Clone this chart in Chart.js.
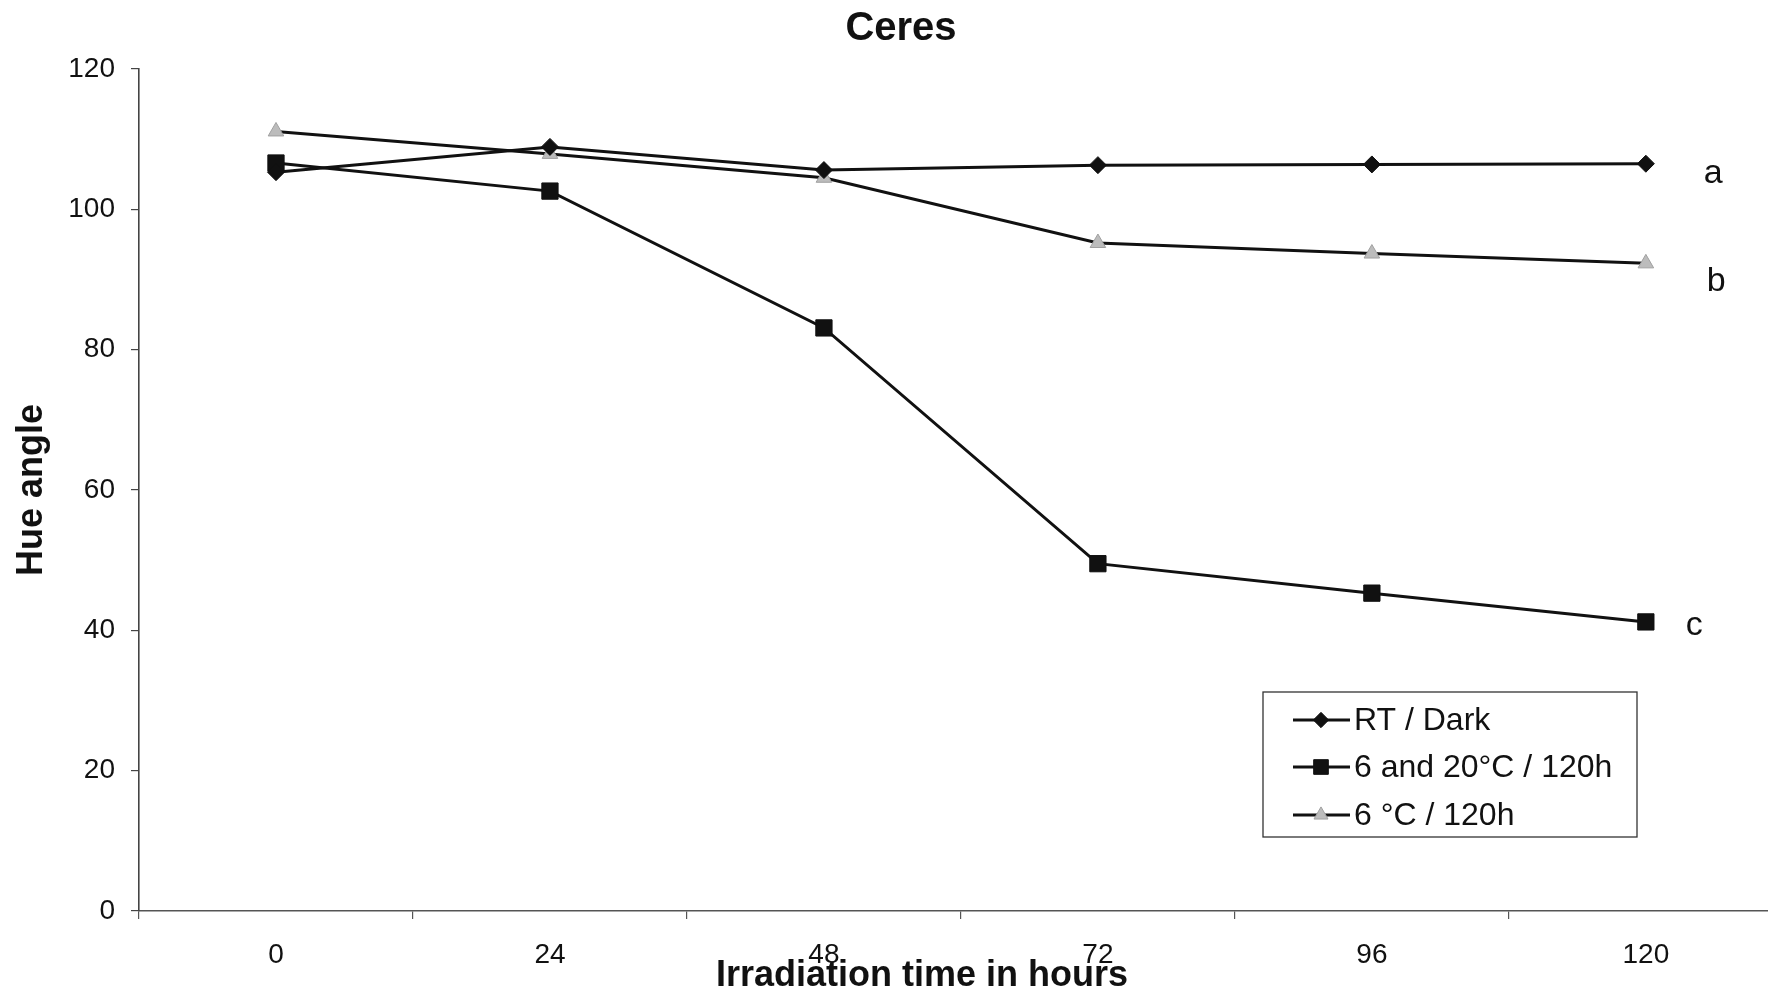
<!DOCTYPE html>
<html>
<head>
<meta charset="utf-8">
<title>Ceres - Hue angle</title>
<script src="https://cdn.jsdelivr.net/npm/chart.js@4.4.1/dist/chart.umd.min.js"></script>
<style>
    html, body { margin: 0; padding: 0; background: #fff; }
    #wrap { width: 1768px; height: 994px; position: relative; }
</style>
</head>
<body>
<div id="wrap"><canvas id="hue-chart"></canvas></div>
<script>
// values
const hours = [0, 24, 48, 72, 96, 120];
const rtDark = [105.3, 108.9, 105.6, 106.3, 106.4, 106.5];
const sixAnd20 = [106.6, 102.6, 83.1, 49.5, 45.3, 41.2];
const sixC = [111.1, 107.9, 104.5, 95.2, 93.7, 92.3];
const seriesNames = ['RT / Dark', '6 and 20°C / 120h', '6 °C / 120h'];
const endLetters = ['a', 'c', 'b'];
const yTicks = [0, 20, 40, 60, 80, 100, 120];

const FONT = '"Liberation Sans", Arial, sans-serif';

function toPoints(values) {
    return values.map((v, i) => ({x: hours[i], y: v}));
}

// letters a / b / c next to the last point, offsets in px
const letterOffsets = [
    {dx: 58, dy: 19},
    {dx: 40, dy: 13},
    {dx: 61, dy: 28}
];

const textPlugin = {
    id: 'textPlugin',
    afterDraw(chart) {
        const ctx = chart.ctx;
        const xs = chart.scales.x;
        const ys = chart.scales.y;
        ctx.save();
        ctx.fillStyle = '#111';

        // title
        ctx.textAlign = 'center';
        ctx.textBaseline = 'middle';
        ctx.font = 'bold 40px ' + FONT;
        ctx.fillText('Ceres', 901, 29);

        // x axis title
        ctx.font = 'bold 36px ' + FONT;
        ctx.fillText('Irradiation time in hours', 922, 976);

        // end letters
        ctx.textAlign = 'left';
        ctx.textBaseline = 'alphabetic';
        ctx.font = '34px ' + FONT;
        chart.data.datasets.forEach((ds, i) => {
            const last = ds.data[ds.data.length - 1];
            const px = xs.getPixelForValue(last.x) + letterOffsets[i].dx;
            const py = ys.getPixelForValue(last.y) + letterOffsets[i].dy;
            ctx.fillText(endLetters[i], px, py);
        });

        // legend box
        const box = {left: 1263, top: 692, right: 1637, bottom: 837};
        ctx.strokeStyle = '#333';
        ctx.lineWidth = 1.3;
        ctx.strokeRect(box.left, box.top, box.right - box.left, box.bottom - box.top);

        const rowY = [720, 767, 815];
        ctx.font = '32px ' + FONT;
        ctx.textBaseline = 'middle';
        chart.data.datasets.forEach((ds, i) => {
            const y = rowY[i];
            ctx.strokeStyle = ds.borderColor;
            ctx.lineWidth = ds.borderWidth;
            ctx.beginPath();
            ctx.moveTo(1293, y);
            ctx.lineTo(1350, y);
            ctx.stroke();

            ctx.fillStyle = ds.pointBackgroundColor;
            ctx.strokeStyle = ds.pointBorderColor;
            ctx.lineWidth = ds.pointBorderWidth;
            Chart.helpers.drawPoint(ctx, {
                pointStyle: ds.pointStyle,
                radius: ds.pointRadius * 0.9,
                rotation: 0,
                borderWidth: ds.pointBorderWidth
            }, 1321, y);

            ctx.fillStyle = '#111';
            ctx.fillText(ds.label, 1354, y + 1);
        });
        ctx.restore();
    }
};

const ctx = document.getElementById('hue-chart').getContext('2d');

new Chart(ctx, {
    type: 'line',
    data: {
        datasets: [
            {
                label: seriesNames[0],
                data: toPoints(rtDark),
                borderColor: '#111',
                borderWidth: 3,
                pointStyle: 'rectRot',
                pointRadius: 8.5,
                pointBackgroundColor: '#111',
                pointBorderColor: '#111',
                pointBorderWidth: 1
            },
            {
                label: seriesNames[1],
                data: toPoints(sixAnd20),
                borderColor: '#111',
                borderWidth: 3,
                pointStyle: 'rect',
                pointRadius: 11.5,
                pointBackgroundColor: '#111',
                pointBorderColor: '#111',
                pointBorderWidth: 1
            },
            {
                label: seriesNames[2],
                data: toPoints(sixC),
                borderColor: '#111',
                borderWidth: 3,
                pointStyle: 'triangle',
                pointRadius: 9,
                pointBackgroundColor: '#bcbcbc',
                pointBorderColor: '#a0a0a0',
                pointBorderWidth: 1
            }
        ]
    },
    options: {
        responsive: true,
        maintainAspectRatio: false,
        animation: false,
        layout: {
            autoPadding: false,
            padding: {top: 69, right: 0, bottom: 0, left: 0}
        },
        elements: {
            line: {tension: 0}
        },
        plugins: {
            legend: {display: false},
            title: {display: false},
            tooltip: {enabled: false}
        },
        scales: {
            x: {
                type: 'linear',
                min: -12,
                max: 130.7,
                afterBuildTicks: (scale) => {
                    scale.ticks = hours.map(v => ({value: v}));
                },
                afterFit: (scale) => {
                    scale.height = 83;
                    scale.paddingLeft = 0;
                    scale.paddingRight = 0;
                },
                grid: {
                    offset: true,
                    drawOnChartArea: false,
                    drawTicks: true,
                    tickLength: 8,
                    color: '#555',
                    lineWidth: 1.2
                },
                border: {color: '#555', width: 1.6},
                ticks: {
                    padding: 19,
                    color: '#111',
                    autoSkip: false,
                    maxRotation: 0,
                    font: {family: FONT, size: 28}
                }
            },
            y: {
                min: 0,
                max: 120,
                afterBuildTicks: (scale) => {
                    scale.ticks = yTicks.map(v => ({value: v}));
                },
                afterFit: (scale) => {
                    scale.width = 139;
                },
                grid: {
                    drawOnChartArea: false,
                    drawTicks: true,
                    tickLength: 8,
                    color: '#444',
                    lineWidth: 1.2
                },
                border: {color: '#444', width: 1.6},
                ticks: {
                    padding: 16,
                    color: '#111',
                    font: {family: FONT, size: 28}
                },
                title: {
                    display: true,
                    text: 'Hue angle',
                    color: '#111',
                    font: {family: FONT, size: 36, weight: 'bold'},
                    padding: {top: 10, bottom: 0}
                }
            }
        }
    },
    plugins: [textPlugin]
});
</script>
</body>
</html>
